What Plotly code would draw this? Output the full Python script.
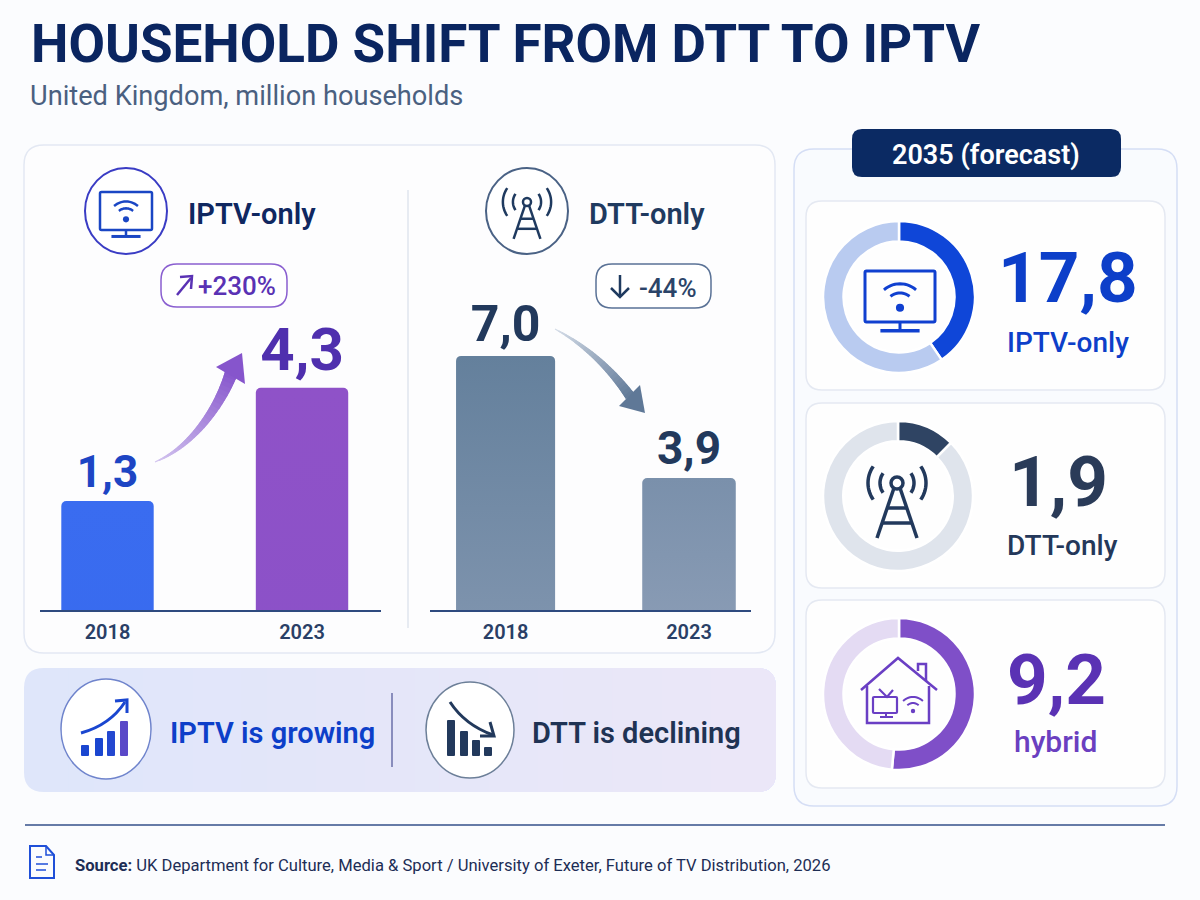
#!/usr/bin/env python3
# household shift infographic, DTT vs IPTV
import math
import plotly.graph_objects as go

W = 1200
H = 900

years = ["2018", "2023"]
iptv_values = [1.3, 4.3]
dtt_values = [7.0, 3.9]
iptv_colors = ["#2553de", "#7d4fcd"]
dtt_colors = ["#6f8299", "#8296af"]
iptv_label_sizes = [44, 60]
dtt_label_sizes = [50, 46]
# top and bottom colour of each bar, in drawing order
bar_gradients = [("#3a6cf0", "#0f50d8"), ("#8f52c8", "#6248c8"), ("#64809c", "#7f94ae"), ("#7a90ab", "#8a9cb5")]

ring_iptv = [40.5, 59.5]
ring_dtt = [12.5, 87.5]
ring_hybrid = [51.5, 48.5]

NAVY = "#0f2760"
BLUE = "#0d3fc9"
PURPLE = "#5a32b4"
SLATE = "#22395c"

shapes = []
notes = []


def rrect(x0, y0, x1, y1, r):
    return (f"M{x0+r},{y0} L{x1-r},{y0} Q{x1},{y0} {x1},{y0+r} L{x1},{y1-r} Q{x1},{y1} {x1-r},{y1} "
            f"L{x0+r},{y1} Q{x0},{y1} {x0},{y1-r} L{x0},{y0+r} Q{x0},{y0} {x0+r},{y0} Z")


def add_path(path, line=None, width=2, fill=None, layer="above"):
    shapes.append(dict(type="path", xref="x", yref="y", path=path, layer=layer,
                       fillcolor=fill or "rgba(0,0,0,0)",
                       line=dict(color=line or "rgba(0,0,0,0)", width=width if line else 0)))


def add_line(x0, y0, x1, y1, color, width=2, layer="above"):
    add_path(f"M{x0},{y0} L{x1},{y1}", line=color, width=width, layer=layer)


def add_ellipse(cx, cy, rx, ry, line=None, width=2, fill=None, layer="above"):
    shapes.append(dict(type="circle", xref="x", yref="y", x0=cx-rx, x1=cx+rx, y0=cy-ry, y1=cy+ry,
                       layer=layer, fillcolor=fill or "rgba(0,0,0,0)",
                       line=dict(color=line or "rgba(0,0,0,0)", width=width if line else 0)))


def arc(cx, cy, r, a0, a1, n=14):
    # angles in degrees, 0 is straight up, clockwise
    pts = []
    for i in range(n + 1):
        a = math.radians(a0 + (a1 - a0) * i / n)
        pts.append((cx + r * math.sin(a), cy - r * math.cos(a)))
    return "M" + " L".join(f"{x:.2f},{y:.2f}" for x, y in pts)


def mix(c0, c1, t):
    a = [int(c0[i:i+2], 16) for i in (1, 3, 5)]
    b = [int(c1[i:i+2], 16) for i in (1, 3, 5)]
    return "#" + "".join(f"{round(a[i] + (b[i] - a[i]) * t):02x}" for i in range(3))


def text(x, y, s, size, color, weight=400, anchor="center", font="Roboto"):
    notes.append(dict(xref="x", yref="y", x=x, y=y, text=s, showarrow=False, xanchor=anchor, yanchor="middle",
                      font=dict(family=font, size=size, color=color, weight=weight)))


def wifi(cx, cy, h, color, width):
    add_ellipse(cx, cy, 0.08 * h, 0.08 * h, fill=color)
    add_path(arc(cx, cy, 0.29 * h, -40, 40), line=color, width=width)
    add_path(arc(cx, cy, 0.47 * h, -42, 42), line=color, width=width)


def tv_icon(cx, top, w, h, color, width):
    x0 = cx - w / 2
    add_path(rrect(x0, top, x0 + w, top + h, 1.5), line=color, width=width)
    add_line(cx, top + h, cx, top + h * 1.14, color, width)
    add_line(cx - w * 0.28, top + h * 1.17, cx + w * 0.28, top + h * 1.17, color, width + 0.5)
    wifi(cx, top + h * 0.72, h, color, width)


def tower_icon(cx, apex, s, color, width, arc_r=(17, 29)):
    bottom = apex + 55 * s
    add_ellipse(cx, apex, 6 * s, 6 * s, line=color, width=width)
    add_line(cx - 3 * s, apex + 5 * s, cx - 20 * s, bottom, color, width)
    add_line(cx + 3 * s, apex + 5 * s, cx + 20 * s, bottom, color, width)
    add_line(cx - 9 * s, apex + 25 * s, cx + 9 * s, apex + 25 * s, color, width)
    add_line(cx - 14 * s, apex + 40 * s, cx + 14 * s, apex + 40 * s, color, width)
    for r in arc_r:
        add_path(arc(cx, apex, r * s, -125, -55), line=color, width=width)
        add_path(arc(cx, apex, r * s, 55, 125), line=color, width=width)


def tapered_arrow(p0, p1, p2, p3, w0, w1, tip, wing_a, wing_b, c0, c1, n=26):
    def bez(t):
        u = 1 - t
        return (u**3*p0[0] + 3*u*u*t*p1[0] + 3*u*t*t*p2[0] + t**3*p3[0],
                u**3*p0[1] + 3*u*u*t*p1[1] + 3*u*t*t*p2[1] + t**3*p3[1])
    pts = [bez(i / n) for i in range(n + 1)]
    for i in range(n):
        (ax, ay), (bx, by) = pts[i], pts[min(i + 2, n)]
        dx, dy = bx - ax, by - ay
        d = math.hypot(dx, dy)
        nx, ny = -dy / d, dx / d
        ta, tb = i / n, (i + 1.4) / n
        wa = (w0 + (w1 - w0) * ta) / 2
        wb = (w0 + (w1 - w0) * tb) / 2
        a, b = pts[i], pts[min(i + 2, n)]
        add_path(f"M{a[0]+nx*wa:.2f},{a[1]+ny*wa:.2f} L{b[0]+nx*wb:.2f},{b[1]+ny*wb:.2f} "
                 f"L{b[0]-nx*wb:.2f},{b[1]-ny*wb:.2f} L{a[0]-nx*wa:.2f},{a[1]-ny*wa:.2f} Z",
                 fill=mix(c0, c1, ta))
    add_path(f"M{tip[0]},{tip[1]} L{wing_a[0]},{wing_a[1]} L{wing_b[0]},{wing_b[1]} Z", fill=c1)


# cards
add_path(rrect(24, 145, 775, 653, 20), line="#e3e8f3", width=1.5, fill="#fdfdfe", layer="below")
add_line(408, 190, 408, 628, "#dfe4ee", 1.5, "below")

steps = 28
add_path(rrect(24, 668, 776, 792, 20), fill="#dfe6fa", layer="below")
for i in range(1, steps):
    x0 = 44 + (756 - 44 - 20) * i / steps
    add_path(f"M{x0:.1f},668 L756,668 Q776,668 776,688 L776,772 Q776,792 756,792 L{x0:.1f},792 Z",
             fill=mix("#dfe6fa", "#ebe7f8", i / steps), layer="below")

add_path(rrect(794, 149, 1177, 806, 20), line="#d5def5", width=1.5, fill="#f9fbfe", layer="below")
add_path(rrect(806, 201, 1165, 390, 16), line="#e5e9f2", width=1.5, fill="#fefefe", layer="below")
add_path(rrect(806, 403, 1165, 588, 16), line="#e5e9f2", width=1.5, fill="#fefefe", layer="below")
add_path(rrect(806, 600, 1165, 788, 16), line="#e5e9f2", width=1.5, fill="#fefefe", layer="below")
add_path(rrect(852, 129, 1121, 177, 10), fill="#0b2a63")
add_line(25, 825, 1165, 825, "#34508a", 1.5, "below")

# heading
text(29, 44, "HOUSEHOLD SHIFT FROM DTT TO IPTV", 53, "#0a2560", 700, "left")
text(28, 96, "United Kingdom, million households", 27.2, "#4a6080", 400, "left")
text(986, 155, "2035 (forecast)", 27, "#ffffff", 600)

# panel headers
add_ellipse(126, 211, 41, 43, line="#3a3cc4", width=2, fill="#ffffff")
tv_icon(126, 192, 52, 38, "#1a46c4", 2.5)
text(252, 214, "IPTV-only", 29, NAVY, 600)
add_ellipse(527, 211, 41, 43, line="#4a6285", width=2, fill="#ffffff")
tower_icon(527, 202, 0.67, "#1f3a5f", 2.5, (21, 36))
text(647, 214, "DTT-only", 29, "#1f3a5f", 600)

# change pills
add_path(rrect(161, 264, 287, 307, 16), line="#8a5fd0", width=1.5, fill="#ffffff")
add_line(177, 295, 191, 278, PURPLE, 2.5)
add_path("M180,277 L192,276 L191,289", line=PURPLE, width=2.5)
text(237, 286, "+230%", 26, PURPLE, 500)
add_path(rrect(596, 264, 711, 308, 16), line="#5a7296", width=1.5, fill="#ffffff")
add_line(620, 275, 620, 297, "#1f3a5f", 2.5)
add_path("M611,288 L620,297 L629,288", line="#1f3a5f", width=2.5)
text(668, 288, "-44%", 26, "#2b4468", 500)

# trend arrows
tapered_arrow((155, 462), (190, 448), (218, 410), (231, 374), 1, 13, (242, 353), (216, 367), (245, 384),
              "#d3c5ef", "#8655cc")
tapered_arrow((555, 329), (585, 345), (610, 368), (630, 396), 1, 10, (645, 413), (619, 406), (640, 385),
              "#d4dce7", "#5f7897")

# forecast figures
tv_icon(900, 271, 70, 51, "#1040d0", 3)
text(1068, 277, "17,8", 71, BLUE, 700)
text(1068, 342, "IPTV-only", 28, BLUE, 500)
tower_icon(897, 483, 1, SLATE, 3.5)
text(1058, 481, "1,9", 71, "#2a3b58", 700)
text(1062, 545, "DTT-only", 28, "#24385a", 500)
# house
HC = "#6a3fc4"
add_path("M861,690 L898,658 L937,690", line=HC, width=2.5)
add_path("M867,686 L867,723 L929,723 L929,686", line=HC, width=2.5)
add_path("M918,671 L918,664 L926,664 L926,681", line=HC, width=2.5)
add_path(rrect(873, 697, 897, 713, 1), line=HC, width=2.2)
add_path("M879,689 L887,697 L893,690", line=HC, width=2.2)
add_line(886, 713, 886, 717, HC, 2)
add_line(880, 717, 893, 717, HC, 2)
add_ellipse(913, 711, 2.2, 2.2, fill=HC)
add_path(arc(913, 711, 8, -45, 45), line=HC, width=2)
add_path(arc(913, 711, 14, -45, 45), line=HC, width=2)
text(1056, 679, "9,2", 71, PURPLE, 700)
text(1055, 741, "hybrid", 30, "#6a3fc0", 500)

# bottom band
add_ellipse(106, 729, 45, 50, line="#6f84cc", width=1.5, fill="#ffffff")
for x0, top, c in [(81, 745, "#1a46d0"), (95, 738, "#1a46d0"), (107, 731, "#2448d0"), (120, 721, "#5a48c8")]:
    add_path(rrect(x0, top, x0 + 8, 756, 1), fill=c)
add_path("M81,733 Q110,725 125,702", line="#1a46d0", width=3)
add_path("M115,701 L127,700 L127,713", line="#1a46d0", width=3)
text(272, 733, "IPTV is growing", 29, BLUE, 600)
add_line(392, 693, 392, 767, "#6a6fa8", 1.5)
add_ellipse(470, 730, 44, 48, line="#6c7f98", width=1.5, fill="#ffffff")
for x0, top in [(447, 720), (460, 731), (472, 740), (484, 747)]:
    add_path(rrect(x0, top, x0 + 8, 756, 1), fill="#22395c")
add_path("M450,702 Q465,725 493,735", line="#22395c", width=3)
add_path("M490,722 L494,736 L480,736", line="#22395c", width=3)
text(636, 733, "DTT is declining", 29, "#1f3354", 600)

# source line
add_path("M30,846 L46,846 L54,855 L54,878 L30,878 Z", line="#1f4fd8", width=2)
add_path("M46,846 L46,855 L54,855", line="#1f4fd8", width=1.5)
add_line(36, 857, 42, 857, "#1f4fd8", 1.5)
add_line(36, 864, 48, 864, "#1f4fd8", 1.5)
add_line(36, 870, 46, 870, "#1f4fd8", 1.5)
text(73, 865, "<b>Source:</b> UK Department for Culture, Media &amp; Sport / University of Exeter, Future of TV Distribution, 2026",
     16.6, "#1d2d55", 400, "left")

fig = go.Figure()

fig.add_trace(go.Bar(x=years, y=iptv_values, xaxis="x2", yaxis="y2", width=0.475, marker=dict(color=iptv_colors, line=dict(width=0)),
                     text=[f"{v:.1f}".replace(".", ",") for v in iptv_values], textposition="outside",
                     textfont=dict(family="Roboto", size=iptv_label_sizes, color=["#1d45c4", "#4f2fae"], weight=700),
                     cliponaxis=False, hoverinfo="skip", showlegend=False))
fig.add_trace(go.Bar(x=years, y=dtt_values, xaxis="x3", yaxis="y3", width=[0.54, 0.51], marker=dict(color=dtt_colors, line=dict(width=0)),
                     text=[f"{v:.1f}".replace(".", ",") for v in dtt_values], textposition="outside",
                     textfont=dict(family="Roboto", size=dtt_label_sizes, color=SLATE, weight=700),
                     cliponaxis=False, hoverinfo="skip", showlegend=False))


def add_ring(values, cx, cy, r, colors):
    fig.add_trace(go.Pie(values=values, sort=False, direction="clockwise", rotation=0, hole=0.73,
                         domain=dict(x=[(cx - r) / W, (cx + r) / W], y=[1 - (cy + r) / H, 1 - (cy - r) / H]),
                         marker=dict(colors=colors, line=dict(color="#ffffff", width=2.5)),
                         textinfo="none", hoverinfo="skip", showlegend=False))


add_ring(ring_iptv, 899, 297, 76, ["#0f46d8", "#b9cbf0"])
add_ring(ring_dtt, 898, 496, 75, ["#2f4463", "#dfe4ec"])
add_ring(ring_hybrid, 899, 694, 76, ["#7f4fc8", "#e4dbf3"])

tick_font = dict(family="Roboto", size=20, color="#2a3f66", weight=600)
y_dom = [1 - 610 / H, 1 - 300 / H]
fig.update_layout(
    width=W, height=H, margin=dict(l=0, r=0, t=0, b=0),
    paper_bgcolor="#fbfcfe", plot_bgcolor="rgba(0,0,0,0)",
    barcornerradius=5, shapes=shapes, annotations=notes,
    # whole page axis in pixels, only used to place cards and icons
    xaxis=dict(domain=[0, 1], range=[0, W], visible=False, fixedrange=True),
    yaxis=dict(domain=[0, 1], range=[H, 0], visible=False, fixedrange=True),
    xaxis2=dict(domain=[40 / W, 381 / W], anchor="y2", type="category", range=[-0.347, 1.406], showgrid=False,
                showline=True, linecolor="#2e4a7f", linewidth=1.5, ticks="outside", ticklen=3,
                tickcolor="rgba(0,0,0,0)", tickfont=tick_font),
    # log scale here, the picture's two bars are not in linear proportion
    yaxis2=dict(domain=y_dom, anchor="x2", type="log", range=[-0.387, 1.037], visible=False),
    xaxis3=dict(domain=[430 / W, 751 / W], anchor="y3", type="category", range=[-0.412, 1.338], showgrid=False,
                showline=True, linecolor="#2e4a7f", linewidth=1.5, ticks="outside", ticklen=3,
                tickcolor="rgba(0,0,0,0)", tickfont=tick_font),
    yaxis3=dict(domain=y_dom, anchor="x3", range=[0.546, 8.42], visible=False),
)

# plotly bars have no gradient fill, so put one on them after drawing
gradient_js = """
document.body.style.margin = '0';
var grads = %s;
var svg = document.querySelector('.main-svg');
var ns = 'http://www.w3.org/2000/svg';
var defs = svg.querySelector('defs');
document.querySelectorAll('.barlayer .point path').forEach(function (bar, i) {
    var g = document.createElementNS(ns, 'linearGradient');
    g.setAttribute('id', 'bar-grad-' + i);
    g.setAttribute('x1', '0'); g.setAttribute('y1', '0');
    g.setAttribute('x2', '0'); g.setAttribute('y2', '1');
    grads[i].forEach(function (c, k) {
        var s = document.createElementNS(ns, 'stop');
        s.setAttribute('offset', k);
        s.setAttribute('stop-color', c);
        g.appendChild(s);
    });
    defs.appendChild(g);
    bar.style.fill = 'url(#bar-grad-' + i + ')';
});
""" % [list(g) for g in bar_gradients]

fig.write_html("out.html", config={"displayModeBar": False}, post_script=gradient_js)
